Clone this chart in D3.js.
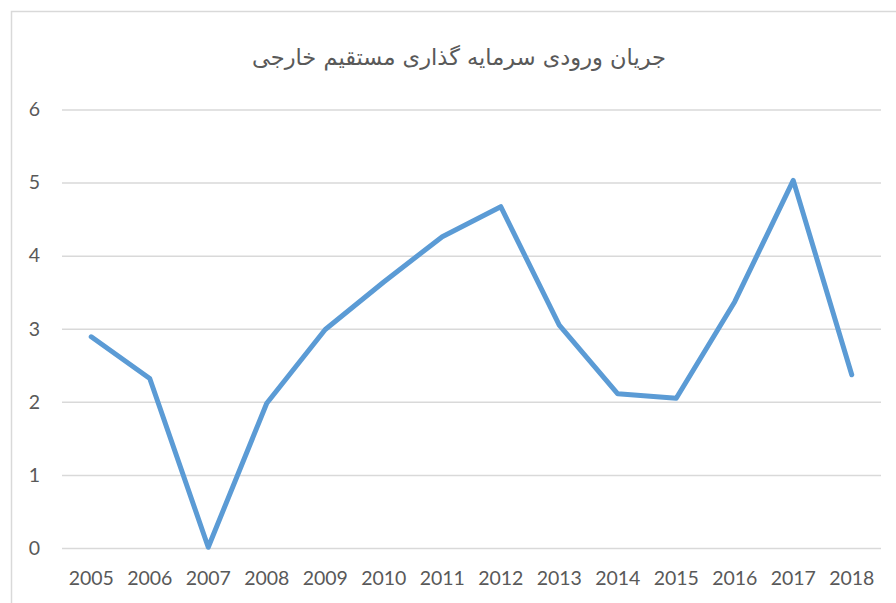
<!DOCTYPE html>
<html lang="fa">
<head>
  <meta charset="UTF-8" />
  <title>جریان ورودی سرمایه گذاری مستقیم خارجی</title>
  <style>
    html, body { margin: 0; padding: 0; background: #fff; }
    svg { display: block; }
  </style>
</head>
<body>
  <svg id="chart"></svg>

  <script src="https://d3js.org/d3.v7.min.js"></script>
  <script>
    const years = ["2005", "2006", "2007", "2008", "2009", "2010", "2011",
                   "2012", "2013", "2014", "2015", "2016", "2017", "2018"];
    const inflow = [2.89, 2.32, 0.01, 1.98, 2.99, 3.64, 4.26,
                    4.67, 3.05, 2.11, 2.05, 3.37, 5.03, 2.37];
    const yTicks = [0, 1, 2, 3, 4, 5, 6];
    const title = "جریان ورودی سرمایه گذاری مستقیم خارجی";

    const W = 896, H = 603;
    const margin = { top: 109.5, right: 15, bottom: 55, left: 62 };
    const width = W - margin.left - margin.right;
    const height = H - margin.top - margin.bottom;

    const svg = d3.select("#chart")
      .attr("width", W)
      .attr("height", H);

    // chart frame
    svg.append("rect")
      .attr("x", 11.5).attr("y", 11.5)
      .attr("width", W + 20).attr("height", H + 20)
      .attr("fill", "none")
      .attr("stroke", "#d9d9d9")
      .attr("stroke-width", 1.5);

    svg.append("text")
      .attr("x", 459)
      .attr("y", 65)
      .attr("text-anchor", "middle")
      .attr("direction", "rtl")
      .attr("font-family", "DejaVu Sans, sans-serif")
      .attr("font-size", "22.5px")
      .attr("fill", "#595959")
      .text(title);

    const g = svg.append("g")
      .attr("transform", `translate(${margin.left},${margin.top})`);

    const x = d3.scaleBand()
      .domain(years)
      .range([0, width]);

    const y = d3.scaleLinear()
      .domain([0, 6])
      .range([height, 0]);

    // gridlines
    g.append("g")
      .call(d3.axisLeft(y).tickValues(yTicks).tickSize(-width).tickFormat(""))
      .call(ax => ax.select(".domain").remove())
      .call(ax => ax.selectAll("line")
        .attr("stroke", "#d9d9d9")
        .attr("stroke-width", 1.5));

    // y labels
    g.append("g")
      .call(d3.axisLeft(y).tickValues(yTicks).tickSize(0).tickPadding(22)
        .tickFormat(d3.format("d")))
      .call(ax => ax.select(".domain").remove())
      .call(ax => ax.selectAll("text")
        .attr("font-family", "Lato, sans-serif")
        .attr("font-size", "19.5px")
        .attr("fill", "#595959"));

    // x labels
    g.append("g")
      .attr("transform", `translate(0,${height})`)
      .call(d3.axisBottom(x).tickSize(0).tickPadding(23))
      .call(ax => ax.select(".domain").remove())
      .call(ax => ax.selectAll("text")
        .attr("font-family", "Lato, sans-serif")
        .attr("font-size", "19.5px")
        .attr("fill", "#595959"));

    const line = d3.line()
      .x((d, i) => x(years[i]) + x.bandwidth() / 2)
      .y(d => y(d));

    g.append("path")
      .datum(inflow)
      .attr("d", line)
      .attr("fill", "none")
      .attr("stroke", "#5b9bd5")
      .attr("stroke-width", 5)
      .attr("stroke-linejoin", "round")
      .attr("stroke-linecap", "round");
  </script>
</body>
</html>
